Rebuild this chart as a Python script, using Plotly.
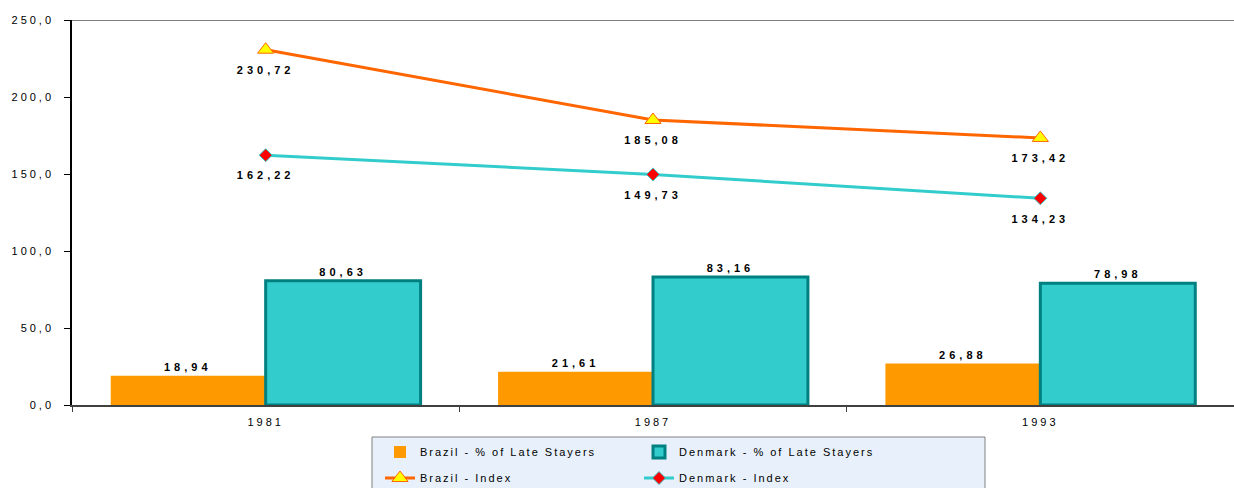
import plotly.graph_objects as go

years = ["1981", "1987", "1993"]
brazil_late = [18.94, 21.61, 26.88]
denmark_late = [80.63, 83.16, 78.98]
brazil_index = [230.72, 185.08, 173.42]
denmark_index = [162.22, 149.73, 134.23]

FONT = "Liberation Sans, Arial, sans-serif"
lab_font = dict(family=FONT, size=11, color="#000000", weight="bold")

fig = go.Figure()
fig.add_trace(go.Bar(
    x=years, y=brazil_late, name="Brazil - % of Late Stayers",
    marker=dict(color="#FF9900", line=dict(width=0)),
    texttemplate="%{y:.2f}", textposition="outside", textfont=lab_font,
    cliponaxis=False, legend="legend",
))
fig.add_trace(go.Bar(
    x=years, y=denmark_late, name="Denmark - % of Late Stayers",
    marker=dict(color="#33CCCC", line=dict(color="#008080", width=3)),
    texttemplate="%{y:.2f}", textposition="outside", textfont=lab_font,
    cliponaxis=False, legend="legend",
))
fig.add_trace(go.Scatter(
    x=years, y=brazil_index, name="Brazil - Index", mode="lines+markers",
    line=dict(color="#FF6600", width=3),
    marker=dict(symbol="triangle-up", size=14, color="#FFFF00",
                line=dict(color="#FF6600", width=1)),
    cliponaxis=False, legend="legend2",
))
fig.add_trace(go.Scatter(
    x=years, y=denmark_index, name="Denmark - Index", mode="lines+markers",
    line=dict(color="#33CCCC", width=3),
    marker=dict(symbol="diamond", size=10, color="#FF0000",
                line=dict(color="#33CCCC", width=1)),
    cliponaxis=False, legend="legend2",
))
# value labels below the line markers
for series in (brazil_index, denmark_index):
    fig.add_trace(go.Scatter(
        x=years, y=series, mode="markers+text", showlegend=False,
        marker=dict(size=24, color="rgba(0,0,0,0)"),
        texttemplate="%{y:.2f}", textposition="bottom center", textfont=lab_font,
        hoverinfo="skip", cliponaxis=False,
    ))

leg_common = dict(
    orientation="h", xanchor="left", yanchor="top",
    bgcolor="rgba(0,0,0,0)", borderwidth=0,
    entrywidth=214, entrywidthmode="pixels",
    font=dict(family=FONT, size=11, color="#000000"),
    traceorder="normal",
)

fig.update_layout(
    width=1234, height=488,
    margin=dict(l=72, r=0, t=20, b=83, autoexpand=False),
    plot_bgcolor="#FFFFFF", paper_bgcolor="#FFFFFF",
    separators=",.",
    barmode="group", bargap=0.2, bargroupgap=0,
    font=dict(family=FONT, size=11, color="#000000"),
    showlegend=True,
    legend=dict(x=(380 - 72) / 1162, y=-0.0846, **leg_common),
    legend2=dict(x=(380 - 72) / 1162, y=-0.152, **leg_common),
    xaxis=dict(
        type="category", showline=True, linecolor="#404040", linewidth=2,
        ticks="outside", ticklen=5, tickcolor="#404040", tickson="boundaries",
        ticklabelstandoff=6,
        showgrid=False, tickfont=dict(family=FONT, size=11, color="#000000"),
    ),
    yaxis=dict(
        range=[0, 250], dtick=50, tickformat=".1f",
        showline=True, linecolor="#000000", linewidth=1.5,
        ticks="outside", ticklen=6, tickcolor="#000000",
        ticklabelstandoff=8,
        showgrid=False, zeroline=False,
        tickfont=dict(family=FONT, size=11, color="#000000"),
    ),
    shapes=[
        dict(type="line", xref="paper", yref="y", x0=0, x1=1, y0=250, y1=250,
             line=dict(color="#808080", width=2)),
        dict(type="rect", xref="paper", yref="paper", layer="below",
             x0=(372 - 72) / 1162, x1=(985 - 72) / 1162,
             y0=-(437 - 405) / 385, y1=-0.3,
             fillcolor="#E8F1FB", line=dict(color="#808080", width=1)),
    ],
)

post = """
document.body.style.margin = '0';
var gd = document.getElementById('{plot_id}');
var st = document.createElement('style');
st.innerHTML = '.main-svg text { letter-spacing: 4px; } '
  + '.main-svg .ytick text, .main-svg .xtick text { letter-spacing: 3px; } '
  + '.main-svg .legend text, .main-svg .legend2 text { letter-spacing: 2px; }';
document.head.appendChild(st);
Plotly.redraw(gd);
"""

fig.write_html("out.html", post_script=post, config={"displayModeBar": False})
